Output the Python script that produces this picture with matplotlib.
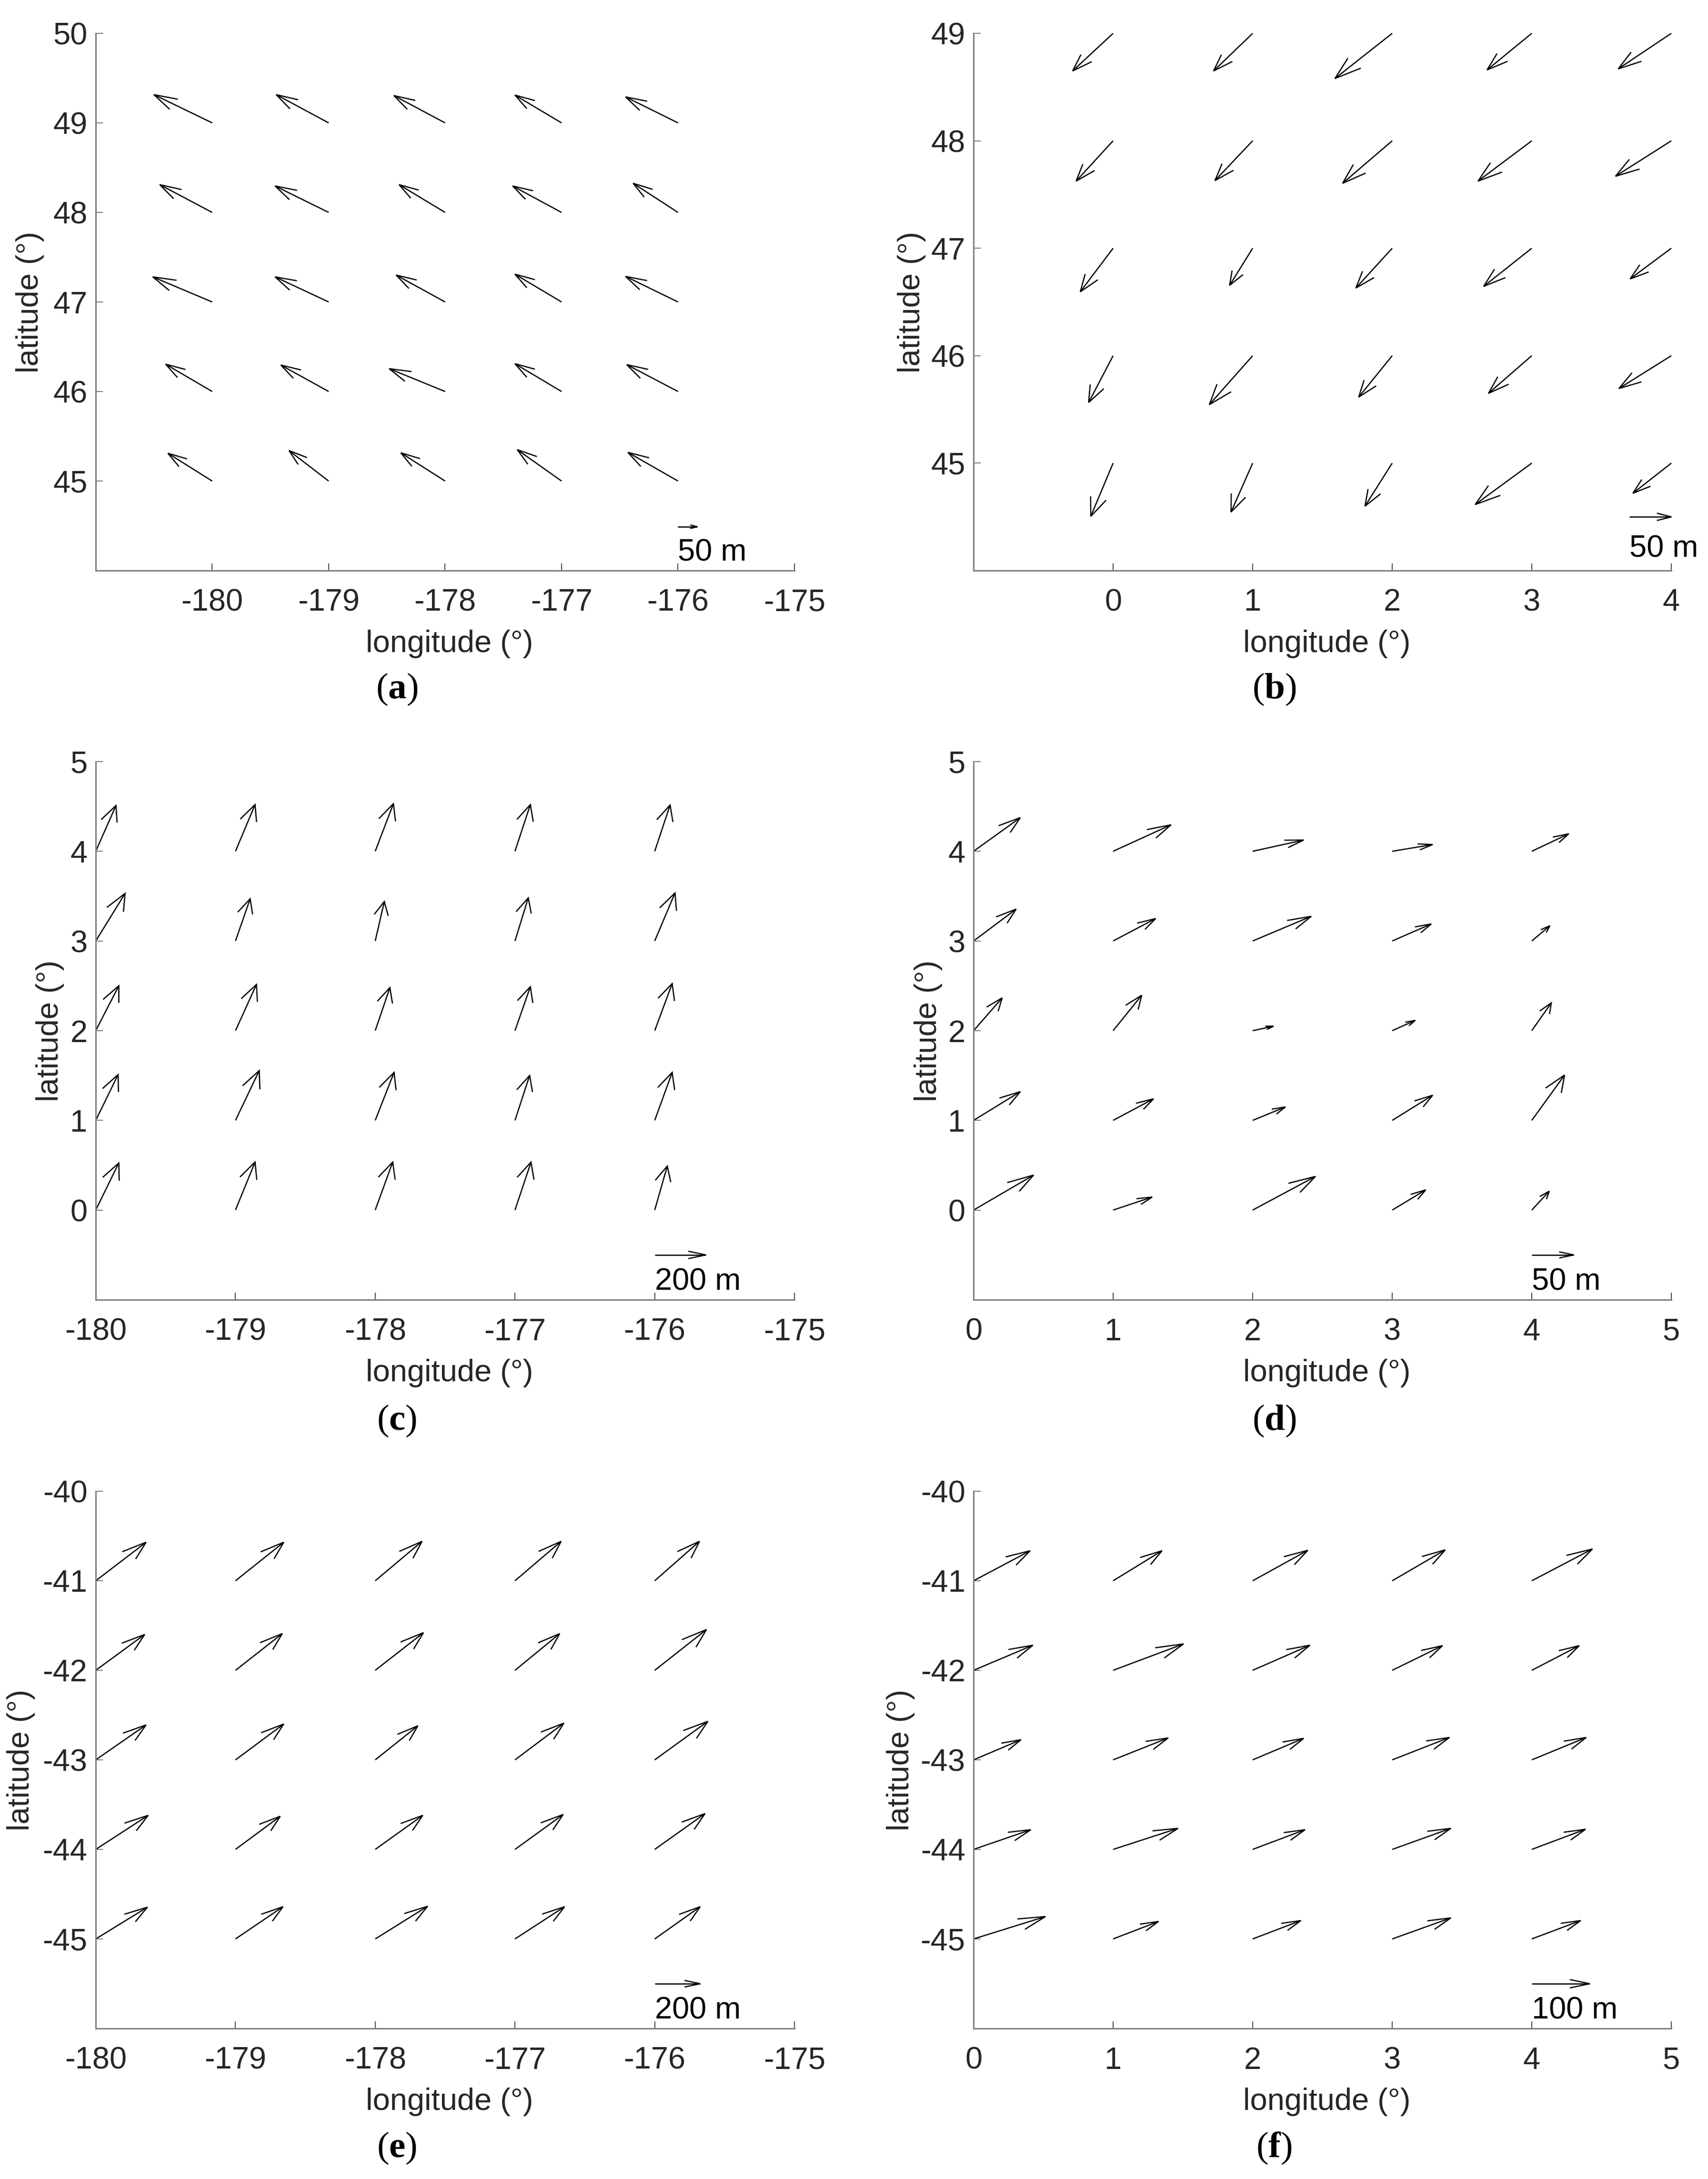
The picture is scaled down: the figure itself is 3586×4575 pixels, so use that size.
import numpy as np
import matplotlib
matplotlib.use('Agg')
import matplotlib.pyplot as plt

plt.rcParams['font.family'] = ['Liberation Sans', 'DejaVu Sans']
plt.rcParams['axes.unicode_minus'] = False
plt.rcParams['mathtext.fontset'] = 'custom'
plt.rcParams['mathtext.rm'] = 'Liberation Serif'
plt.rcParams['mathtext.bf'] = 'Liberation Serif:bold'

# grid nodes, rows go from the top latitude down
lon_a = [-180, -179, -178, -177, -176]
lat_a = [49, 48, 47, 46, 45]
lon_b = [0, 1, 2, 3, 4]
lat_b = [49, 48, 47, 46, 45]
lon_c = [-180, -179, -178, -177, -176]
lat_c = [4, 3, 2, 1, 0]
lon_d = [0, 1, 2, 3, 4]
lat_d = [4, 3, 2, 1, 0]
lon_e = [-180, -179, -178, -177, -176]
lat_e = [-41, -42, -43, -44, -45]
lon_f = [0, 1, 2, 3, 4]
lat_f = [-41, -42, -43, -44, -45]

# arrow components in degrees
u_a = [[-.50, -.45, -.44, -.40, -.45],
       [-.45, -.46, -.395, -.42, -.385],
       [-.51, -.46, -.42, -.40, -.45],
       [-.40, -.41, -.48, -.40, -.44],
       [-.38, -.34, -.38, -.38, -.43]]
v_a = [[.315, .315, .305, .31, .29],
       [.31, .295, .31, .295, .325],
       [.28, .28, .30, .31, .285],
       [.305, .295, .255, .31, .30],
       [.31, .34, .315, .35, .32]]

u_b = [[-.29, -.28, -.41, -.32, -.38],
       [-.265, -.27, -.355, -.385, -.40],
       [-.235, -.165, -.26, -.345, -.295],
       [-.175, -.31, -.24, -.31, -.375],
       [-.16, -.155, -.195, -.405, -.275]]
v_b = [[-.35, -.35, -.42, -.34, -.33],
       [-.375, -.37, -.395, -.375, -.33],
       [-.405, -.345, -.37, -.355, -.285],
       [-.435, -.455, -.385, -.35, -.305],
       [-.495, -.455, -.40, -.385, -.28]]

u_c = [[.145, .14, .13, .11, .11],
       [.21, .105, .065, .095, .145],
       [.165, .15, .105, .11, .125],
       [.16, .17, .135, .105, .125],
       [.165, .14, .125, .115, .09]]
v_c = [[.51, .52, .53, .52, .515],
       [.53, .47, .44, .48, .535],
       [.50, .515, .48, .49, .525],
       [.51, .555, .535, .50, .535],
       [.525, .535, .535, .535, .49]]

u_d = [[.335, .415, .365, .29, .265],
       [.305, .305, .42, .28, .13],
       [.205, .205, .15, .165, .14],
       [.335, .29, .235, .29, .235],
       [.43, .28, .45, .24, .125]]
v_d = [[.375, .295, .125, .075, .195],
       [.355, .25, .275, .19, .17],
       [.365, .395, .05, .115, .31],
       [.32, .24, .15, .28, .505],
       [.39, .145, .375, .225, .21]]

u_e = [[.36, .345, .335, .33, .32],
       [.35, .335, .345, .32, .37],
       [.36, .345, .305, .35, .38],
       [.375, .32, .34, .345, .36],
       [.37, .34, .375, .355, .325]]
v_e = [[.43, .43, .44, .44, .44],
       [.40, .41, .42, .41, .455],
       [.39, .40, .38, .41, .43],
       [.38, .37, .38, .39, .40],
       [.355, .36, .365, .36, .36]]

u_f = [[.405, .35, .395, .38, .435],
       [.425, .505, .41, .36, .34],
       [.34, .395, .365, .41, .39],
       [.41, .465, .375, .42, .385],
       [.515, .325, .345, .42, .35]]
v_f = [[.335, .335, .34, .345, .355],
       [.28, .295, .28, .275, .275],
       [.225, .245, .24, .25, .25],
       [.22, .235, .22, .235, .225],
       [.25, .195, .205, .235, .205]]

xticks_west = [-180, -179, -178, -177, -176, -175]
xticks_zero = [0, 1, 2, 3, 4, 5]

W = 3586
H = 4575
DPI = 300
ALPHA = 0.33
BETA = 0.33


def quiver_matlab(ax, x, y, u, v, lw=0.62):
    # same head shape as matlab quiver, barbs worked out in data units
    tx = x + u
    ty = y + v
    ax.plot([x, tx], [y, ty], color='black', lw=lw, clip_on=False, solid_capstyle='butt')
    bx = [tx - ALPHA * (u + BETA * v), tx, tx - ALPHA * (u - BETA * v)]
    by = [ty - ALPHA * (v - BETA * u), ty, ty - ALPHA * (v + BETA * u)]
    ax.plot(bx, by, color='black', lw=lw, clip_on=False, solid_joinstyle='miter')


def make_panel(px, lons, lats, u, v, xlim, ylim, xticks, yticks, scale, ylab_x, tag, tag_x, tag_y):
    left, right, top, bottom = px
    ax = fig.add_axes([left / W, 1 - bottom / H, (right - left) / W, (bottom - top) / H])
    for j, lat in enumerate(lats):
        for i, lon in enumerate(lons):
            quiver_matlab(ax, lon, lat, u[j][i], v[j][i])

    sx, sy, su, sname, text_y = scale
    quiver_matlab(ax, sx, sy, su, 0)
    ax.text(sx, text_y, sname, fontsize=15.6, color='black', va='baseline', ha='left', clip_on=False)

    ax.set_xlim(xlim)
    ax.set_ylim(ylim)
    ax.set_xticks(xticks)
    ax.set_yticks(yticks)
    ax.spines['top'].set_visible(False)
    ax.spines['right'].set_visible(False)
    for s in ['left', 'bottom']:
        ax.spines[s].set_color('#808080')
        ax.spines[s].set_linewidth(0.75)
    ax.tick_params(axis='x', direction='in', length=3.6, width=0.5, color='#505050',
                   labelsize=15.6, labelcolor='#262626', pad=9)
    ax.tick_params(axis='y', direction='in', length=3.6, width=0.5, color='#808080',
                   labelsize=15.6, labelcolor='#262626', pad=4.2)
    ax.set_xlabel('longitude (°)', fontsize=15.6, color='#262626', labelpad=6.4)
    ax.xaxis.label.set_x(0.506)
    ax.set_ylabel('latitude (°)', fontsize=15.6, color='#262626', va='center')
    ax.yaxis.set_label_coords((ylab_x - left) / (right - left), 0.5)

    fig.text(tag_x / W, 1 - tag_y / H, '($\\mathbf{' + tag + '}$)', fontsize=18.5,
             family='Liberation Serif', ha='center', va='center', color='black')
    return ax


fig = plt.figure(figsize=(W / DPI, H / DPI), dpi=DPI, facecolor='white')

make_panel((201, 1668, 70, 1198), lon_a, lat_a, u_a, v_a, (-181, -175), (44, 50),
           xticks_west, [45, 46, 47, 48, 49, 50], (-176, 44.49, .165, '50 m', 44.11), 63, 'a', 833, 1447)
make_panel((2044, 3509, 70, 1198), lon_b, lat_b, u_b, v_b, (-1, 4), (44, 49),
           [0, 1, 2, 3, 4], [45, 46, 47, 48, 49], (3.70, 44.5, .30, '50 m', 44.125), 1914, 'b', 2675, 1447)
make_panel((201, 1668, 1599, 2729), lon_c, lat_c, u_c, v_c, (-180, -175), (-1, 5),
           xticks_west, [0, 1, 2, 3, 4, 5], (-176, -.5, .365, '200 m', -.89), 105, 'c', 833, 2983)
make_panel((2044, 3509, 1599, 2729), lon_d, lat_d, u_d, v_d, (0, 5), (-1, 5),
           xticks_zero, [0, 1, 2, 3, 4, 5], (4, -.5, .30, '50 m', -.89), 1949, 'd', 2675, 2983)
make_panel((201, 1668, 3131, 4259), lon_e, lat_e, u_e, v_e, (-180, -175), (-46, -40),
           xticks_west, [-45, -44, -43, -42, -41, -40], (-176, -45.5, .325, '200 m', -45.89), 44, 'e', 833, 4510)
make_panel((2044, 3509, 3131, 4259), lon_f, lat_f, u_f, v_f, (0, 5), (-46, -40),
           xticks_zero, [-45, -44, -43, -42, -41, -40], (4, -45.5, .415, '100 m', -45.89), 1891, 'f', 2675, 4510)

fig.savefig('out.png', dpi=DPI, facecolor='white')
